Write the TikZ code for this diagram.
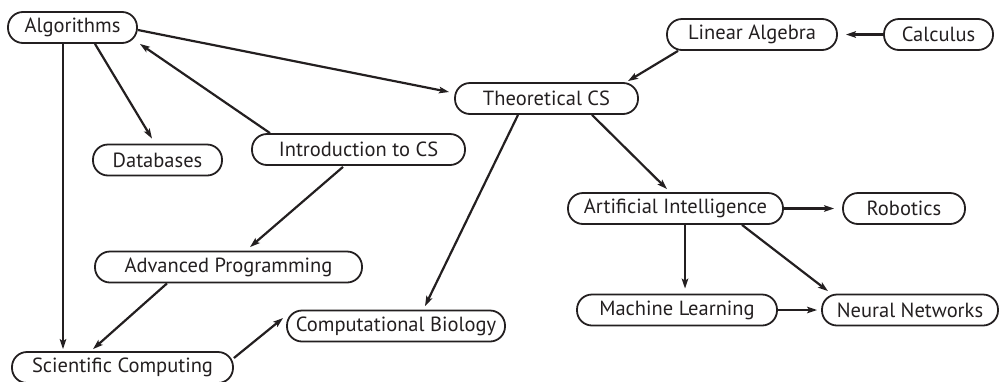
\documentclass[tikz,border=0pt]{standalone}
\usepackage{fontspec}
\setmainfont{PT Sans}
\usetikzlibrary{arrows.meta}
\definecolor{ink}{HTML}{231F20}
\begin{document}
\begin{tikzpicture}[x=1pt,y=-1pt,
  box/.style={draw=ink, line width=1.8pt, rounded corners=15pt, minimum height=31pt, inner sep=0pt, text=ink, font=\fontsize{20.5}{24}\selectfont},
  link/.style={draw=ink, line width=2.2pt, -{Stealth[length=10pt,width=6.5pt,inset=2pt]}}]
\useasboundingbox (0,0) rectangle (1001,381);
\clip (0,0) rectangle (1001,381);
\node[box, minimum width=129pt] (alg) at (72.5,27.5) {Algorithms};
\node[box, minimum width=170pt] (la) at (752,34.5) {Linear Algebra};
\node[box, minimum width=109pt] (calc) at (938.5,34.5) {Calculus};
\node[box, minimum width=183pt] (tcs) at (546.5,98.5) {Theoretical CS};
\node[box, minimum width=129pt] (db) at (157.5,160) {Databases};
\node[box, minimum width=213pt] (intro) at (358.5,149.5) {Introduction to CS};
\node[box, minimum width=215pt] (ai) at (675.5,208.5) {Artificial Intelligence};
\node[box, minimum width=122pt] (rob) at (904,208.5) {Robotics};
\node[box, minimum width=200pt] (ml) at (677,310) {Machine Learning};
\node[box, minimum width=176pt] (nn) at (910,310) {Neural Networks};
\node[box, minimum width=267pt] (ap) at (228.5,267) {Advanced Programming};
\node[box, minimum width=218pt] (cb) at (396,326) {Computational Biology};
\node[box, minimum width=221pt] (sc) at (122.5,367.5) {Scientific Computing};

\draw[link] ([shift={(0,2.5)}]alg.east) -- ([shift={(-5,-6.5)}]tcs.west);
\draw[link] ([shift={(22.5,0)}]alg.south) -- ([shift={(-5.5,-5)}]db.north);
\draw[link] ([shift={(-9.5,0)}]alg.south) -- ([shift={(-59.5,-2)}]sc.north);
\draw[link] ([shift={(-88.5,0)}]intro.north) -- ([shift={(2,0)}]alg.south east);
\draw[link] ([shift={(-15.5,1)}]intro.south) -- ([shift={(21.5,-3.5)}]ap.north);
\draw[link] ([shift={(-61.5,0)}]ap.south) -- ([shift={(-29.5,-2)}]sc.north);
\draw[link] ([shift={(0,-9.5)}]sc.east) -- ([shift={(-3,-8)}]cb.west);
\draw[link] ([shift={(-28.5,0)}]tcs.south) -- ([shift={(29,-3.5)}]cb.north);
\draw[link] ([shift={(45.5,0)}]tcs.south) -- ([shift={(-8.5,-3)}]ai.north);
\draw[link] ([shift={(-74,0)}]la.south) -- ([shift={(-11,-1)}]tcs.north east);
\draw[link] (calc.west) -- ([shift={(8,0)}]la.east);
\draw[link] (ai.east) -- ([shift={(-8,0)}]rob.west);
\draw[link] ([shift={(9.5,0)}]ai.south) -- ([shift={(8,-5)}]ml.north);
\draw[link] ([shift={(66.5,0)}]ai.south) -- ([shift={(-82,-2.5)}]nn.north);
\draw[link] (ml.east) -- ([shift={(-4,0)}]nn.west);
\end{tikzpicture}
\end{document}
